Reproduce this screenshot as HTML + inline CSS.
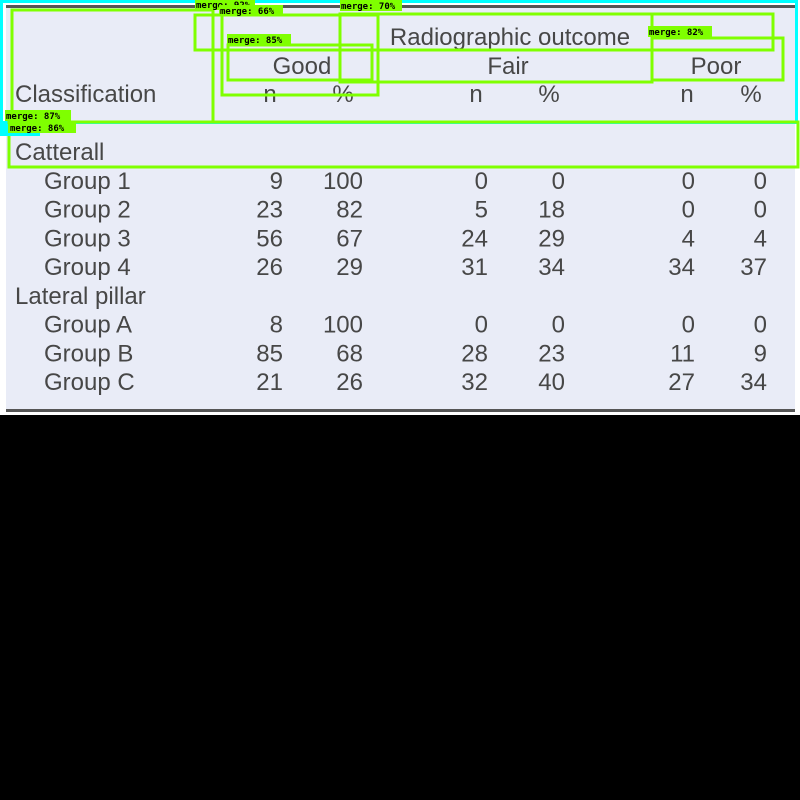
<!DOCTYPE html>
<html><head><meta charset="utf-8"><style>
body{margin:0;background:#000;width:800px;height:800px;overflow:hidden}
svg{display:block}
text{font-family:"Liberation Sans",sans-serif;fill:#474747}
.lb{font-family:"DejaVu Sans Mono","Liberation Mono",monospace;font-size:9px;font-weight:bold;fill:#000}
</style></head><body>
<svg width="800" height="800">
<rect x="0" y="0" width="800" height="415" fill="#fff"/>
<rect x="6" y="6" width="789" height="406" fill="#e9ecf7"/>
<rect x="6" y="5" width="789" height="3" fill="#555"/>
<rect x="6" y="409" width="789" height="3" fill="#555"/>
<g font-size="24">
<text x="510" y="45" text-anchor="middle">Radiographic outcome</text>
<text x="302" y="74" text-anchor="middle">Good</text>
<text x="508" y="74" text-anchor="middle">Fair</text>
<text x="716" y="74" text-anchor="middle">Poor</text>
<text x="15" y="102">Classification</text>
<g text-anchor="middle">
<text x="270" y="102">n</text><text x="343" y="102">%</text>
<text x="476" y="102">n</text><text x="549" y="102">%</text>
<text x="687" y="102">n</text><text x="751" y="102">%</text>
</g>
<g id="body"></g>
</g>
<g fill="none" stroke="#7fff00" stroke-width="3">
<rect x="1.5" y="1.5" width="795" height="121" stroke="#00ffff"/>
<rect x="12" y="10" width="201" height="112"/>
<rect x="195" y="15" width="145" height="35"/>
<rect x="222" y="15" width="156" height="80"/>
<rect x="228" y="45" width="144" height="35"/>
<rect x="340" y="14" width="433" height="36"/>
<rect x="340" y="14" width="312" height="68"/>
<rect x="652" y="38" width="131" height="42"/>
<rect x="9" y="122" width="789" height="45"/>
</g>
<g>
<rect x="195" y="0" width="60" height="10" fill="#7fff00"/><text class="lb" x="196" y="8">merge: 92%</text>
<rect x="219" y="5" width="64" height="11" fill="#7fff00"/><text class="lb" x="220" y="14">merge: 66%</text>
<rect x="340" y="0" width="62" height="11" fill="#7fff00"/><text class="lb" x="341" y="9">merge: 70%</text>
<rect x="227" y="34" width="64" height="11" fill="#7fff00"/><text class="lb" x="228" y="43">merge: 85%</text>
<rect x="648" y="26" width="64" height="11" fill="#7fff00"/><text class="lb" x="649" y="35">merge: 82%</text>
<rect x="5" y="110" width="66" height="11" fill="#7fff00"/><text class="lb" x="6" y="119">merge: 87%</text>
<rect x="0" y="124" width="40" height="12" fill="#00ffff"/>
<rect x="8" y="122" width="68" height="11" fill="#7fff00"/><text class="lb" x="10" y="131">merge: 86%</text>
</g>
</svg>
<script>
const rowLabels=["Catterall","Group 1","Group 2","Group 3","Group 4","Lateral pillar","Group A","Group B","Group C"];
const goodN=[null,9,23,56,26,null,8,85,21];
const goodP=[null,100,82,67,29,null,100,68,26];
const fairN=[null,0,5,24,31,null,0,28,32];
const fairP=[null,0,18,29,34,null,0,23,40];
const poorN=[null,0,0,4,34,null,0,11,27];
const poorP=[null,0,0,4,37,null,0,9,34];
const g=document.getElementById('body');
const NS='http://www.w3.org/2000/svg';
const cols=[[goodN,283],[goodP,363],[fairN,488],[fairP,565],[poorN,695],[poorP,767]];
rowLabels.forEach((lab,i)=>{
  const y=160+i*28.75;
  const sub=goodN[i]!==null;
  const t=document.createElementNS(NS,'text');
  t.setAttribute('x',sub?44:15);t.setAttribute('y',y);t.textContent=lab;
  
  
  g.appendChild(t);
  cols.forEach(([arr,x])=>{
    if(arr[i]===null)return;
    const c=document.createElementNS(NS,'text');
    c.setAttribute('x',x);c.setAttribute('y',y);c.setAttribute('text-anchor','end');
    c.textContent=arr[i];
    
    
    g.appendChild(c);
  });
});
</script>
</body></html>
